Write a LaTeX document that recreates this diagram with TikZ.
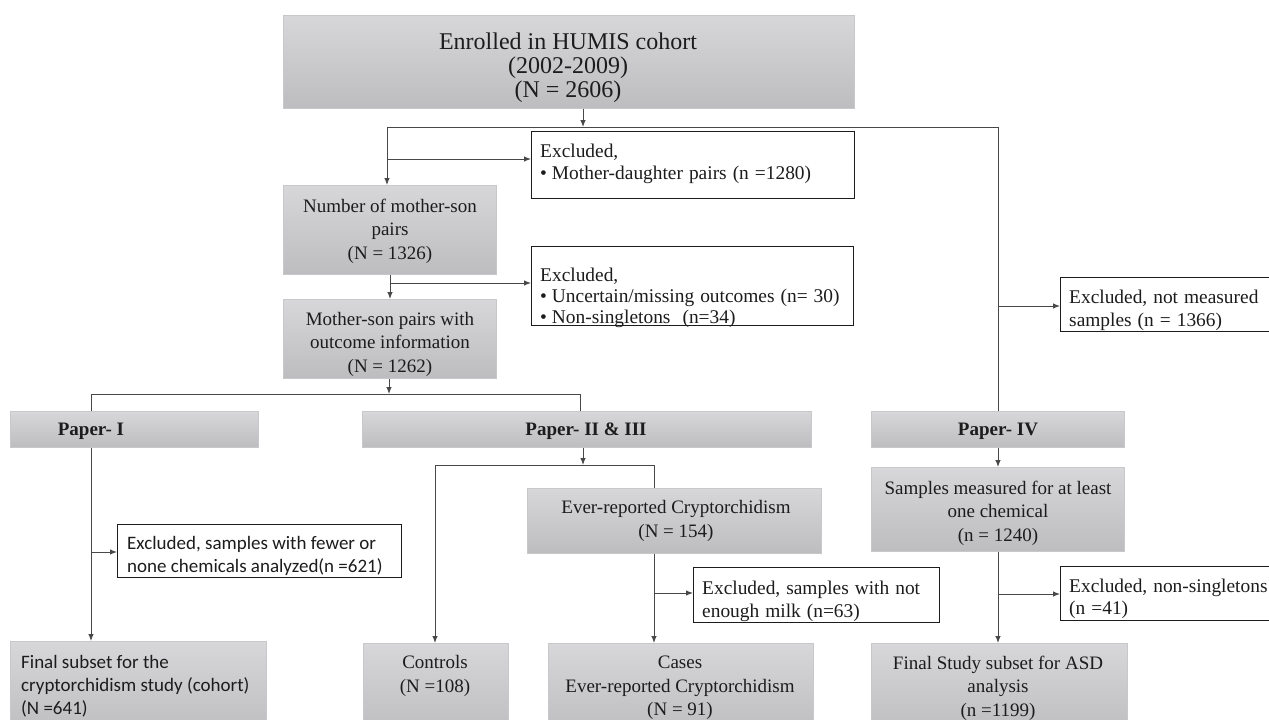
\documentclass[tikz,border=0pt]{standalone}
\usepackage{fontspec}
\setmainfont{Liberation Serif}
\newfontfamily\calibrifont{Carlito}
\usetikzlibrary{arrows.meta}

\definecolor{boxtop}{RGB}{215,215,217}
\definecolor{boxbot}{RGB}{189,189,191}
\definecolor{boxedge}{RGB}{200,200,202}
\definecolor{linegray}{RGB}{72,72,72}
\definecolor{ink}{RGB}{28,28,28}

% a box from (x1,y1) to (x2,y2), y measured downwards
\newcommand\flowbox[6]{\node[#1, anchor=north west,
  minimum width={(#5)-(#3)}, minimum height={(#6)-(#4)}] (#2) at (#3,#4) {};}
% slightly wider word spacing for the exclusion notes
\newcommand\widespaces{\spaceskip=6pt plus 1pt\relax}

\tikzset{
  graybox/.style={rectangle, top color=boxtop, bottom color=boxbot,
    draw=boxedge, line width=0.8pt, inner sep=0pt},
  exbox/.style={rectangle, fill=white, draw=ink, line width=1.3pt, inner sep=0pt},
  conn/.style={draw=linegray, line width=1pt},
  arr/.style={conn, -{Latex[length=7pt,width=5.5pt]}},
  body/.style={text=ink, inner sep=0pt, align=center,
    font=\fontsize{19}{23.5}\selectfont},
  bodyleft/.style={body, align=left, anchor=west},
  exfont/.style={font=\fontsize{19.4}{#1}\selectfont\widespaces},
  title/.style={body, font=\fontsize{24}{24}\selectfont},
  paper/.style={body, font=\fontsize{19}{23}\selectfont\bfseries},
  sansleft/.style={bodyleft, font=\calibrifont\fontsize{19}{23}\selectfont},
}

\begin{document}
\begin{tikzpicture}[x=1pt, y=-1pt]
\clip (0,0) rectangle (1269,720);
\fill[white] (0,0) rectangle (1269,720);

% ---------- boxes ----------
\flowbox{graybox}{top}{283}{15}{854}{108}
\flowbox{exbox}{ex1}{531}{131}{854}{198}
\flowbox{graybox}{nms}{283}{185}{496}{274}
\flowbox{exbox}{ex2}{531}{246}{853}{325}
\flowbox{graybox}{msp}{283}{299}{496}{378}
\flowbox{exbox}{ex3}{1060}{277}{1280}{331}

\flowbox{graybox}{p1}{10}{411}{258}{447}
\flowbox{graybox}{p2}{362}{411}{811}{447}
\flowbox{graybox}{p4}{871}{411}{1124}{447}

\flowbox{graybox}{smp}{871}{467}{1124}{551}
\flowbox{exbox}{ex4}{1060}{566}{1280}{620}
\flowbox{graybox}{evr}{527}{488}{821}{553}
\flowbox{exbox}{ex5}{693}{567}{939}{622}
\flowbox{exbox}{exp1}{117}{524}{401}{577}

\flowbox{graybox}{fsc}{10}{641}{266}{735}
\flowbox{graybox}{ctl}{363}{643}{508}{735}
\flowbox{graybox}{cas}{548}{643}{813}{735}
\flowbox{graybox}{fss}{871}{643}{1127}{735}

% ---------- texts ----------
\node[title] (top-t) at (568,68) {Enrolled in HUMIS cohort\\(2002-2009)\\(N = 2606)};
\node[bodyleft, exfont=22] (ex1-t) at (540,164)
  {Excluded,\\•\hspace{5pt}Mother-daughter pairs (n =1280)};
\node[body] (nms-t) at (390,231) {Number of mother-son\\pairs\\(N = 1326)};
\node[bodyleft, exfont=21] (ex2-t) at (540,298)
  {Excluded,\\•\hspace{5pt}Uncertain/missing outcomes (n= 30)\\•\hspace{5pt}Non-singletons\ \ (n=34)};
\node[body] (msp-t) at (390,344) {Mother-son pairs with\\outcome information\\(N = 1262)};
\node[bodyleft, exfont=23] (ex3-t) at (1069,310)
  {Excluded, not measured\\samples (n = 1366)};

\node[paper] (p1-t) at (91,431) {Paper- I};
\node[paper] (p2-t) at (586,431) {Paper- II \& III};
\node[paper] (p4-t) at (998,431) {Paper- IV};

\node[body] (smp-t) at (998,513) {Samples measured for at least\\one chemical\\(n = 1240)};
\node[bodyleft, exfont=22] (ex4-t) at (1069,599)
  {Excluded, non-singletons\\(n =41)};
\node[body] (evr-t) at (676,521) {Ever-reported Cryptorchidism\\(N = 154)};
\node[bodyleft, exfont=23] (ex5-t) at (702,601)
  {Excluded, samples with not\\enough milk (n=63)};
\node[sansleft] (exp1-t) at (127,556)
  {Excluded, samples with fewer or\\none chemicals analyzed(n =621)};

\node[sansleft] (fsc-t) at (21,686)
  {Final subset for the\\cryptorchidism study (cohort)\\(N =641)};
\node[body] (ctl-t) at (435,676) {Controls\\(N =108)};
\node[body] (cas-t) at (680,688) {Cases\\Ever-reported Cryptorchidism\\(N = 91)};
\node[body] (fss-t) at (998,688) {Final Study subset for ASD\\analysis\\(n =1199)};

% ---------- junction points ----------
\coordinate (jTop) at (583,127);
\coordinate (jL) at (387,127);
\coordinate (jR) at (998,127);
\coordinate (b1) at (387,159);
\coordinate (b2) at (390,283);
\coordinate (jP) at (389,394);
\coordinate (jP1) at (91,394);
\coordinate (jP2) at (580,394);
\coordinate (b3) at (998,306);
\coordinate (b4) at (998,594);
\coordinate (b5) at (91,552);
\coordinate (jC) at (583,465);
\coordinate (jCL) at (435,465);
\coordinate (jCR) at (654,465);
\coordinate (b6) at (654,593);

% ---------- connectors ----------
\draw[arr] (top.south -| jTop) -- (jTop);
\draw[conn] (jL) -- (jR);
\draw[arr] (jL) -- (nms.north -| jL);
\draw[arr] (b1) -- (ex1.west |- b1);
\draw[arr] (nms.south -| b2) -- (msp.north -| b2);
\draw[arr] (b2) -- (ex2.west |- b2);
\draw[arr] (msp.south -| jP) -- (jP);
\draw[conn] (jP1) -- (jP2);
\draw[conn] (jP1) -- (p1.north -| jP1);
\draw[conn] (jP2) -- (p2.north -| jP2);
\draw[conn] (jR) -- (p4.north -| jR);
\draw[arr] (b3) -- (ex3.west |- b3);
\draw[arr] (p4.south -| jR) -- (smp.north -| jR);
\draw[arr] (smp.south -| jR) -- (fss.north -| jR);
\draw[arr] (b4) -- (ex4.west |- b4);
\draw[arr] (p1.south -| jP1) -- (fsc.north -| jP1);
\draw[arr] (b5) -- (exp1.west |- b5);
\draw[arr] (p2.south -| jC) -- (jC);
\draw[conn] (jCL) -- (jCR);
\draw[arr] (jCL) -- (ctl.north -| jCL);
\draw[conn] (jCR) -- (evr.north -| jCR);
\draw[arr] (evr.south -| jCR) -- (cas.north -| jCR);
\draw[arr] (b6) -- (ex5.west |- b6);
\end{tikzpicture}
\end{document}
